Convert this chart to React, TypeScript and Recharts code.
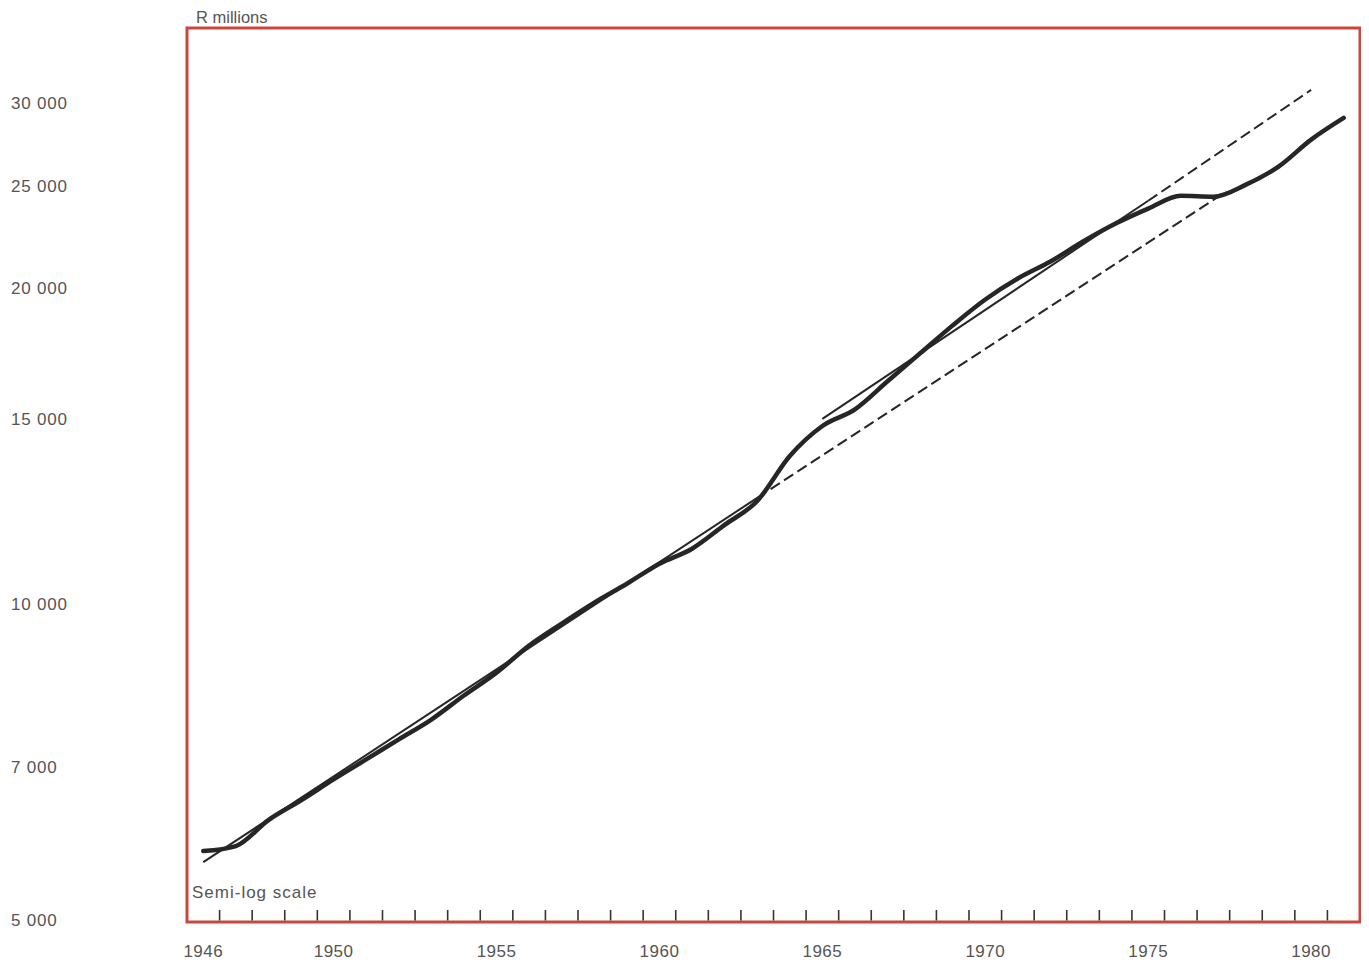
import { LineChart, Line, XAxis, YAxis, ReferenceArea } from "recharts";

// yearly values, R millions
const years = [
  1946, 1947, 1948, 1949, 1950, 1951, 1952, 1953, 1954, 1955, 1956, 1957,
  1958, 1959, 1960, 1961, 1962, 1963, 1964, 1965, 1966, 1967, 1968, 1969,
  1970, 1971, 1972, 1973, 1974, 1975, 1976, 1977, 1978, 1979, 1980, 1981,
];
const values = [
  5815, 5880, 6225, 6500, 6806, 7110, 7430, 7760, 8180, 8600, 9125, 9575,
  10025, 10450, 10920, 11285, 11890, 12530, 13830, 14770, 15320, 16290, 17320, 18415,
  19490, 20410, 21180, 22130, 23020, 23790, 24470, 24420, 25070, 26080, 27670, 29020,
];

// trend lines
const trendEarly = [
  { year: 1946, value: 5676 },
  { year: 1963, value: 12616 },
];
const trendEarlyExt = [
  { year: 1963, value: 12616 },
  { year: 1977.4, value: 24700 },
];
const trendLate = [
  { year: 1965, value: 15000 },
  { year: 1975, value: 24200 },
];
const trendLateExt = [
  { year: 1975, value: 24200 },
  { year: 1980, value: 30860 },
];

const yearTicks = [1946, 1950, 1955, 1960, 1965, 1970, 1975, 1980];
const valueTicks = [5000, 7000, 10000, 15000, 20000, 25000, 30000];
const minorTicks = Array.from({ length: 35 }, (_, i) => 1946.5 + i);

const xDomain: [number, number] = [1945.5, 1981.5];
const yDomain: [number, number] = [4978, 35345];

const data = years.map((year, i) => ({ year, value: values[i] }));

const FONT = "'Liberation Sans', Arial, sans-serif";
const TEXT = "#555";
const RED = "#c9473f";
const INK = "#262626";

const fmt = (n: number) =>
  n >= 1000 ? `${Math.floor(n / 1000)} ${String(n % 1000).padStart(3, "0")}` : String(n);

const YTick = ({ y, payload }: any) => (
  <text x={3} y={y} dy={6} fill={TEXT} fontSize={17} letterSpacing={0.8} fontFamily={FONT}>
    {fmt(payload.value)}
  </text>
);

// small upward tick marks sitting on the bottom frame
const MinorTick = ({ x, y }: any) => (
  <line x1={x} x2={x} y1={y - 1.5} y2={y - 12} stroke="#333" strokeWidth={1.6} />
);

export default function App() {
  return (
    <div style={{ position: "relative", width: 1361, height: 957 }}>
      <LineChart
        width={1361}
        height={957}
        data={data}
        margin={{ top: 20, right: 9, bottom: 0, left: 0 }}
      >
        <XAxis
          dataKey="year"
          type="number"
          domain={xDomain}
          ticks={yearTicks}
          interval={0}
          allowDataOverflow
          axisLine={false}
          tickLine={false}
          tickSize={0}
          tickMargin={23}
          height={43}
          tick={{ fill: TEXT, fontSize: 17, fontFamily: FONT, letterSpacing: 0.5 }}
        />
        <XAxis
          xAxisId="minor"
          dataKey="year"
          type="number"
          domain={xDomain}
          ticks={minorTicks}
          interval={0}
          allowDataOverflow
          mirror
          axisLine={false}
          tickLine={false}
          tickSize={0}
          tickMargin={0}
          tick={<MinorTick />}
        />
        <YAxis
          type="number"
          scale="log"
          domain={yDomain}
          ticks={valueTicks}
          interval={0}
          allowDataOverflow
          axisLine={false}
          tickLine={false}
          width={179}
          tick={<YTick />}
        />
        <ReferenceArea
          x1={xDomain[0]}
          x2={xDomain[1]}
          y1={yDomain[0]}
          y2={yDomain[1]}
          fill="none"
          stroke={RED}
          strokeWidth={3}
          ifOverflow="visible"
        />
        <Line
          data={trendEarly}
          dataKey="value"
          type="linear"
          stroke={INK}
          strokeWidth={2}
          dot={false}
          activeDot={false}
          isAnimationActive={false}
        />
        <Line
          data={trendEarlyExt}
          dataKey="value"
          type="linear"
          stroke={INK}
          strokeWidth={2}
          strokeDasharray="11 5"
          dot={false}
          activeDot={false}
          isAnimationActive={false}
        />
        <Line
          data={trendLate}
          dataKey="value"
          type="linear"
          stroke={INK}
          strokeWidth={2}
          dot={false}
          activeDot={false}
          isAnimationActive={false}
        />
        <Line
          data={trendLateExt}
          dataKey="value"
          type="linear"
          stroke={INK}
          strokeWidth={2}
          strokeDasharray="11 5"
          dot={false}
          activeDot={false}
          isAnimationActive={false}
        />
        <Line
          dataKey="value"
          type="monotone"
          stroke={INK}
          strokeWidth={4.5}
          strokeLinecap="round"
          dot={false}
          activeDot={false}
          isAnimationActive={false}
        />
      </LineChart>
      <div
        style={{
          position: "absolute",
          left: 188,
          top: 0,
          fontFamily: FONT,
          fontSize: 16.5,
          color: TEXT,
        }}
      >
        R millions
      </div>
      <div
        style={{
          position: "absolute",
          left: 184,
          top: 875,
          fontFamily: FONT,
          fontSize: 17,
          letterSpacing: 1,
          color: TEXT,
        }}
      >
        Semi-log scale
      </div>
    </div>
  );
}
